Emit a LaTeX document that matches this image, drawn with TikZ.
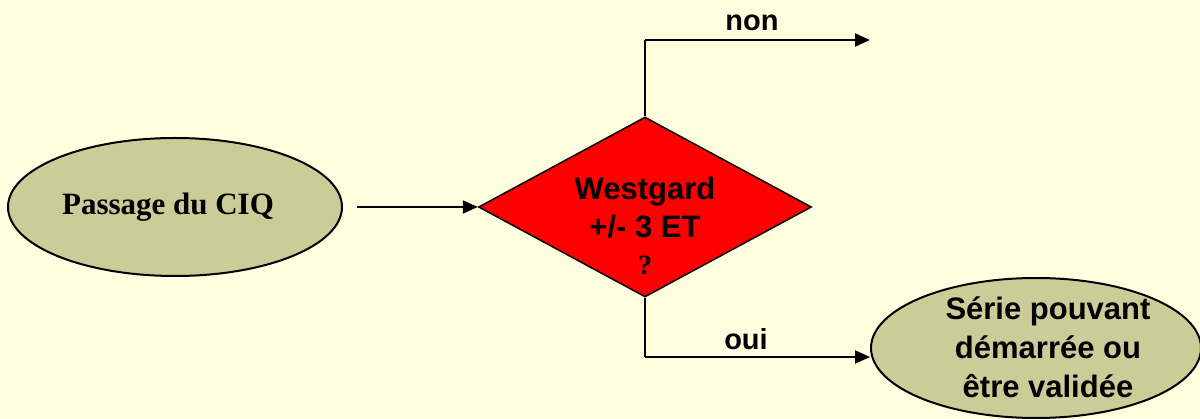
\documentclass[tikz,border=0pt]{standalone}
\usepackage{fontspec}
\setmainfont{Liberation Serif}
\newfontfamily\arialb{Liberation Sans}
\usetikzlibrary{shapes.geometric,arrows.meta}
\definecolor{bgyellow}{RGB}{255,255,224}
\definecolor{olivefill}{RGB}{204,204,153}
\definecolor{decred}{RGB}{255,0,0}
\tikzset{
  oval/.style={ellipse, draw=black, line width=2pt, fill=olivefill, inner sep=0pt},
  decision/.style={diamond, draw=black, line width=1.5pt, fill=decred, inner sep=0pt, minimum width=333pt, minimum height=180pt},
  flow/.style={line width=2pt, -{Triangle[length=15pt,width=13pt]}},
  seg/.style={line width=2pt},
  lbl/.style={font=\arialb\bfseries\fontsize{29}{35}\selectfont, inner sep=0pt, anchor=base},
  sanstxt/.style={font=\arialb\bfseries\fontsize{31}{38}\selectfont, align=center, inner sep=0pt, anchor=base},
}
\begin{document}
\begin{tikzpicture}[x=1pt,y=-1pt]
\fill[bgyellow] (0,0) rectangle (1200,419);
\useasboundingbox (0,0) rectangle (1200,419);
\begin{scope}
\clip (0,0) rectangle (1200,419);
\node[oval, minimum width=334pt, minimum height=138pt] (start) at (175,207) {};
\node[font=\bfseries\fontsize{31}{37}\selectfont, inner sep=0pt, anchor=base] (starttxt) at (168,215) {Passage du CIQ};
\node[decision] (dec) at (645,207) {};
\node[sanstxt] (dectxt) at (645,238) {Westgard\\+/- 3 ET};
\node[font=\bfseries\fontsize{28}{34}\selectfont, inner sep=0pt, anchor=base] (q) at (645,275) {?};
\node[oval, minimum width=330pt, minimum height=140pt] (ok) at (1036,348) {};
\node[sanstxt] (oktxt1) at (1048,320) {Série pouvant};
\node[sanstxt] (oktxt2) at (1048,359) {démarrée ou};
\node[sanstxt] (oktxt3) at (1048,398) {être validée};
\end{scope}
\coordinate (startout) at (357,207);
\coordinate (topcorner) at (645,40);
\coordinate (nonend) at (870,40);
\coordinate (botcorner) at (645,357);
\draw[flow] (startout) -- (dec.west);
\draw[seg] (dec.north) -- (topcorner);
\draw[flow] (topcorner) -- (nonend);
\draw[seg] (dec.south) -- (botcorner);
\draw[flow] (botcorner) -- (ok.west |- botcorner);
\node[lbl] (non) at (752,31) {non};
\node[lbl] (oui) at (746,350) {oui};
\end{tikzpicture}
\end{document}
